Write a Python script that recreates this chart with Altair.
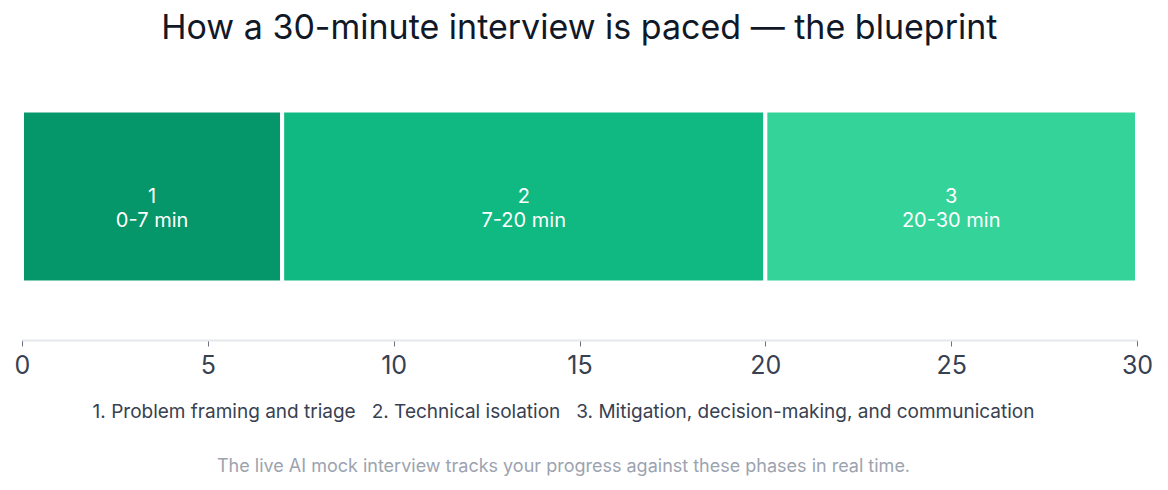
import altair as alt
import pandas as pd

phases = ["1", "2", "3"]
starts = [0, 7, 20]
ends = [7, 20, 30]
colors = ["#059669", "#10b981", "#34d399"]
ticks = [0, 5, 10, 15, 20, 25, 30]
phase_names = [
    "1. Problem framing and triage",
    "2. Technical isolation",
    "3. Mitigation, decision-making, and communication",
]

df = pd.DataFrame({"phase": phases, "start": starts, "end": ends, "row": ["a"] * 3})

FONT = "Inter"
GAP = "\u00a0\u00a0\u00a0"

base = alt.Chart(df).transform_calculate(
    mid="(datum.start + datum.end) / 2",
    label="datum.phase + '\\n' + datum.start + '-' + datum.end + ' min'",
)

bars = base.mark_bar(stroke="white", strokeWidth=4).encode(
    x=alt.X(
        "start:Q",
        scale=alt.Scale(domain=[0, 30], nice=False),
        axis=alt.Axis(
            values=ticks,
            grid=False,
            domainColor="#e5e7eb",
            domainWidth=2,
            tickColor="#6b7280",
            tickSize=6,
            labelFontSize=25,
            labelColor="#374151",
            labelFont=FONT,
            labelFlush=False,
            labelPadding=7,
            title=GAP.join(phase_names),
            titleFont=FONT,
            titleFontSize=19,
            titleFontWeight="normal",
            titleColor="#374151",
            titlePadding=24,
            titleX=541,
        ),
    ),
    x2="end:Q",
    y=alt.Y("row:N", axis=None, scale=alt.Scale(paddingInner=0.25, paddingOuter=0.25)),
    color=alt.Color("phase:N", scale=alt.Scale(domain=phases, range=colors), legend=None),
)

labels = base.mark_text(color="white", fontSize=20, font=FONT, lineBreak="\n", lineHeight=24).encode(
    x="mid:Q",
    y=alt.Y("row:N"),
    text="label:N",
)

inner = alt.layer(bars, labels).properties(
    width=1115,
    height=287,
    title=alt.TitleParams(
        "The live AI mock interview tracks your progress against these phases in real time.",
        orient="bottom",
        fontSize=18,
        fontWeight="normal",
        color="#9ca3af",
        font=FONT,
        offset=37,
        dx=-16,
    ),
)

chart = alt.vconcat(inner).properties(
    title=alt.TitleParams(
        "How a 30-minute interview is paced — the blueprint",
        fontSize=34,
        fontWeight="normal",
        color="#111827",
        font=FONT,
        anchor="middle",
        offset=7,
        dx=-4,
    ),
    padding={"left": 14, "right": 8, "top": 12, "bottom": 5},
).configure_view(stroke=None)

chart.save("out.html", embed_options={"renderer": "svg", "actions": False})
